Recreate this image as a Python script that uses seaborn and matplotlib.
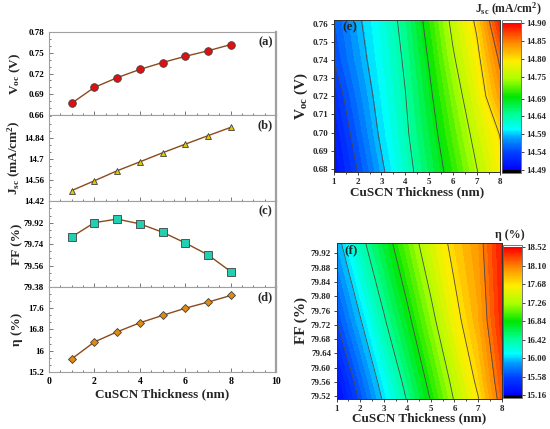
import numpy as np
import matplotlib
matplotlib.use("Agg")
import matplotlib.pyplot as plt
import seaborn as sns
from matplotlib.colors import LinearSegmentedColormap, Normalize
from matplotlib.cm import ScalarMappable

# values
thickness = [1, 2, 3, 4, 5, 6, 7, 8]
voc = [0.677, 0.700, 0.714, 0.726, 0.736, 0.745, 0.753, 0.762]
jsc = [14.49, 14.555, 14.621, 14.68, 14.74, 14.797, 14.853, 14.908]
ff = [79.80, 79.92, 79.95, 79.91, 79.84, 79.75, 79.65, 79.51]
eta = [15.69, 16.33, 16.71, 17.05, 17.33, 17.60, 17.83, 18.08]

# contour map (e): Jsc over thickness x Voc
voc_rows = [0.678, 0.699, 0.720, 0.741, 0.762]
jsc_map = [
    [14.500, 14.540, 14.584, 14.626, 14.665, 14.705, 14.748, 14.790],
    [14.510, 14.553, 14.596, 14.634, 14.674, 14.718, 14.762, 14.802],
    [14.523, 14.565, 14.604, 14.639, 14.683, 14.731, 14.778, 14.835],
    [14.541, 14.577, 14.611, 14.645, 14.693, 14.746, 14.791, 14.857],
    [14.550, 14.585, 14.616, 14.652, 14.704, 14.759, 14.806, 14.890],
]
jsc_ticks = [14.49, 14.54, 14.59, 14.64, 14.69, 14.75, 14.80, 14.85, 14.90]
jsc_labels = ["14.49", "14.54", "14.59", "14.64", "14.69", "14.75", "14.80", "14.85", "14.90"]

# contour map (f): eta over thickness x FF
ff_rows = [79.513, 79.561, 79.731, 79.949]
eta_map = [
    [15.19, 15.614, 16.036, 16.441, 16.857, 17.279, 17.665, 18.20],
    [15.26, 15.688, 16.111, 16.511, 16.928, 17.342, 17.738, 18.25],
    [15.58, 15.980, 16.387, 16.771, 17.174, 17.585, 17.913, 18.40],
    [15.916, 16.336, 16.700, 17.075, 17.457, 17.773, 18.005, 18.45],
]
eta_ticks = [15.16, 15.58, 16.00, 16.42, 16.84, 17.26, 17.68, 18.10, 18.52]
eta_labels = ["15.16", "15.58", "16.00", "16.42", "16.84", "17.26", "17.68", "18.10", "18.52"]

sns.set_style("ticks")
plt.rcParams['font.family'] = ['Liberation Serif', 'DejaVu Serif']
plt.rcParams['font.weight'] = 'bold'
plt.rcParams['mathtext.fontset'] = 'custom'
plt.rcParams['mathtext.rm'] = 'Liberation Serif:bold'
plt.rcParams['mathtext.it'] = 'Liberation Serif:bold'
plt.rcParams['mathtext.bf'] = 'Liberation Serif:bold'

line_color = "#8b4a1c"
frame_grey = "#a0a0a0"

rainbow = LinearSegmentedColormap.from_list("origin_rainbow", [
    (0.0, "#0000ff"), (0.12, "#0040ff"), (0.22, "#00a0ff"), (0.28, "#00ffff"),
    (0.38, "#00ff99"), (0.5, "#00e600"), (0.62, "#aaff00"), (0.74, "#ffee00"),
    (0.86, "#ff9000"), (1.0, "#ff0000")])
rainbow.set_under("black")
rainbow.set_over("white")

fig = plt.figure(figsize=(5.5, 4.29), dpi=100)

left_panels = [
    # y values, ylim, ticks, tick labels, ylabel, marker, face colour, size, tag
    (voc, (0.66, 0.78), [0.66, 0.69, 0.72, 0.75, 0.78], ["0.66", "0.69", "0.72", "0.75", "0.78"],
     r"V$_{\mathrm{oc}}$ (V)", "o", "#e01010", 5.5, "(a)", [0.089, 0.732, 0.413, 0.193]),
    (jsc, (14.42, 14.99), [14.42, 14.56, 14.7, 14.84], ["14.42", "14.56", "14.7", "14.84"],
     r"J$_{\mathrm{sc}}$ (mA/cm$^{\mathrm{2}}$)", "^", "#e0c800", 5, "(b)", [0.089, 0.531, 0.413, 0.201]),
    (ff, (79.38, 80.10), [79.38, 79.56, 79.74, 79.92], ["79.38", "79.56", "79.74", "79.92"],
     "FF (%)", "s", "#20d0b0", 5.5, "(c)", [0.089, 0.331, 0.413, 0.200]),
    (eta, (15.2, 18.4), [15.2, 16.0, 16.8, 17.6], ["15.2", "16", "16.8", "17.6"],
     "η (%)", "D", "#e08a10", 3.8, "(d)", [0.089, 0.133, 0.413, 0.198]),
]

for i, (vals, ylim, ticks, tlabels, ylab, mk, fc, ms, tag, rect) in enumerate(left_panels):
    ax = fig.add_axes(rect)
    sns.lineplot(x=thickness, y=vals, ax=ax, color=line_color, lw=1.0, marker=mk,
                 markersize=ms, markerfacecolor=fc, markeredgecolor="#404040",
                 markeredgewidth=0.6)
    ax.set_xlim(0, 10)
    ax.set_ylim(*ylim)
    ax.set_xticks([0, 2, 4, 6, 8, 10])
    ax.set_xticks(np.arange(0, 10.5, 0.5), minor=True)
    ax.set_yticks(ticks)
    ax.set_yticklabels(tlabels)
    ax.set_yticks(np.arange(ylim[0], ylim[1], (ticks[1] - ticks[0]) / 3), minor=True)
    ax.tick_params(which="both", direction="in", colors="#606060", labelcolor="black",
                   labelsize=6.5, width=0.6)
    ax.tick_params(which="major", length=3)
    ax.tick_params(which="minor", length=1.5)
    for s in ax.spines.values():
        s.set_color(frame_grey)
        s.set_linewidth(0.8)
    ax.spines["right"].set_linewidth(1.6)
    ax.set_ylabel(ylab, fontsize=9.5, fontweight="bold", labelpad=2)
    ax.yaxis.set_label_coords(-0.115, 0.5)
    ax.text(0.985, 0.88, tag, transform=ax.transAxes, ha="right", va="center",
            fontsize=9, fontweight="bold")
    if i < 3:
        ax.set_xticklabels([])
    else:
        ax.tick_params(axis="x", labelsize=7)
        ax.set_xlabel("CuSCN Thickness (nm)", fontsize=9.5, fontweight="bold", labelpad=2)


def contour_panel(rect, cbar_rect, rows, zmap, ticks, labels, yticks, ylabels,
                  ylab, tag, cbar_title, title_xy):
    ax = fig.add_axes(rect)
    vmin, vmax = ticks[0], ticks[-1]
    levels = np.linspace(vmin, vmax, 41)
    ax.contourf(thickness, rows, zmap, levels=levels, cmap=rainbow, vmin=vmin, vmax=vmax)
    ax.contour(thickness, rows, zmap, levels=ticks[1:-1], colors="#4a4a4a", linewidths=0.6)
    ax.set_xlim(1, 8)
    ax.set_ylim(rows[0], rows[-1])
    ax.set_xticks(thickness)
    ax.set_xticks(np.arange(1, 8.01, 0.5), minor=True)
    ax.set_yticks(yticks)
    ax.set_yticklabels(ylabels)
    ax.tick_params(which="both", direction="out", labelsize=6.5, width=0.6, pad=1.5)
    ax.tick_params(which="major", length=2.5)
    ax.tick_params(which="minor", length=1.5)
    for s in ax.spines.values():
        s.set_color("#303030")
        s.set_linewidth(0.7)
    ax.set_xlabel("CuSCN Thickness (nm)", fontsize=9.5, fontweight="bold", labelpad=0)
    ax.set_ylabel(ylab, fontsize=11, fontweight="bold", labelpad=2)
    ax.text(0.05, 0.95, tag, transform=ax.transAxes, ha="left", va="center",
            fontsize=9.5, fontweight="bold")

    cax = fig.add_axes(cbar_rect)
    sm = ScalarMappable(norm=Normalize(vmin, vmax), cmap=rainbow)
    cb = fig.colorbar(sm, cax=cax, extend="both", extendrect=True, extendfrac=0.02)
    cb.set_ticks(ticks)
    cb.set_ticklabels(labels)
    cb.ax.tick_params(labelsize=6.5, length=2, width=0.6, pad=1.5)
    cb.outline.set_edgecolor("#606060")
    cb.outline.set_linewidth(0.6)
    fig.text(title_xy[0], title_xy[1], cbar_title, ha="center", va="center",
             fontsize=8.5, fontweight="bold")


contour_panel([0.607, 0.598, 0.303, 0.355], [0.913, 0.596, 0.0345, 0.357],
              voc_rows, jsc_map, jsc_ticks, jsc_labels,
              [0.68, 0.69, 0.70, 0.71, 0.72, 0.73, 0.74, 0.75, 0.76],
              ["0.68", "0.69", "0.70", "0.71", "0.72", "0.73", "0.74", "0.75", "0.76"],
              r"V$_{\mathrm{oc}}$ (V)", "(e)", r"J$_{\mathrm{sc}}$ (mA/cm$^{\mathrm{2}}$)",
              (0.925, 0.978))

contour_panel([0.612, 0.070, 0.300, 0.364], [0.915, 0.072, 0.0335, 0.358],
              ff_rows, eta_map, eta_ticks, eta_labels,
              [79.52, 79.56, 79.60, 79.64, 79.68, 79.72, 79.76, 79.80, 79.84, 79.88, 79.92],
              ["79.52", "79.56", "79.60", "79.64", "79.68", "79.72", "79.76", "79.80",
               "79.84", "79.88", "79.92"],
              "FF (%)", "(f)", "η (%)", (0.927, 0.452))

fig.savefig("out.png", dpi=100)
